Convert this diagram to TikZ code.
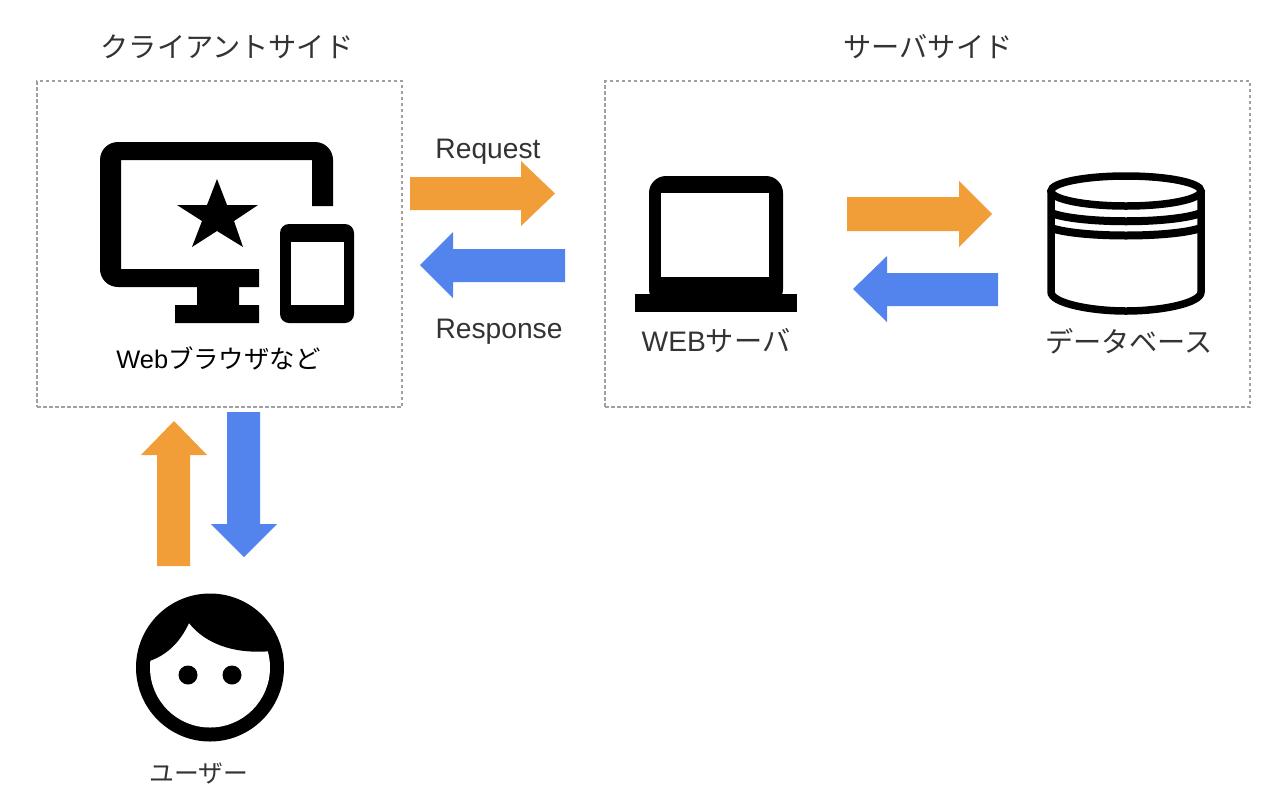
\documentclass[tikz,border=0pt]{standalone}
\usepackage{fontspec}
\setmainfont{Liberation Sans}
\newfontfamily\cjk{Noto Sans CJK JP}
\definecolor{orangearrow}{HTML}{F19E38}
\definecolor{bluearrow}{HTML}{5383EC}
\definecolor{labelgray}{HTML}{333333}
\definecolor{framegray}{HTML}{A0A0A0}
\tikzset{
  frame/.style={draw=framegray,line width=1.5pt,dash pattern=on 3.5pt off 2.5pt},
  toarrow/.style={fill=orangearrow},
  backarrow/.style={fill=bluearrow},
  biglabel/.style={inner sep=0pt,text=labelgray,font=\fontsize{28.2}{30}\selectfont},
  smalllabel/.style={inner sep=0pt,font=\fontsize{25.4}{28}\selectfont},
  ink/.style={fill=black},
  paper/.style={fill=white},
  dbline/.style={draw=black,line width=8pt}
}
\begin{document}
\begin{tikzpicture}[x=1pt,y=-1pt]
\useasboundingbox[fill=white] (0,0) rectangle (1282,804);
% frames
\node[frame,minimum width=365pt,minimum height=326pt,inner sep=0pt] (client) at (219.5,244) {};
\node[frame,minimum width=645pt,minimum height=326pt,inner sep=0pt] (server) at (927.5,244) {};
% labels
\node[biglabel] (clientlabel) at (227,47) {\cjk クライアントサイド};
\node[biglabel] (serverlabel) at (928,47) {\cjk サーバサイド};
\node[biglabel] (request) at (488,152) {Request};
\node[biglabel] (response) at (499,332) {Response};
\node[biglabel] (weblabel) at (716,341) {WEB{\cjk サーバ}};
\node[biglabel] (dblabel) at (1129,341) {\cjk データベース};
\node[smalllabel] (browser) at (218.5,358) {Web{\cjk ブラウザなど}};
\node[smalllabel,text=labelgray,font=\fontsize{24.8}{28}\selectfont] (user) at (199,773) {\cjk ユーザー};
% arrows
\fill[toarrow] (410,177) -- (521,177) -- (521,161) -- (555,193.5) -- (521,226) -- (521,210) -- (410,210) -- cycle;
\fill[backarrow] (565,249) -- (453,249) -- (453,232) -- (420,265) -- (453,298) -- (453,282) -- (565,282) -- cycle;
\fill[toarrow] (847,197) -- (959,197) -- (959,181) -- (992,214) -- (959,247) -- (959,231) -- (847,231) -- cycle;
\fill[backarrow] (998,273) -- (887,273) -- (887,256) -- (853,289) -- (887,322) -- (887,306) -- (998,306) -- cycle;
\fill[toarrow] (157,566) -- (157,455) -- (141,455) -- (174,421) -- (207,455) -- (190,455) -- (190,566) -- cycle;
\fill[backarrow] (227,412) -- (227,524) -- (211,524) -- (244,557) -- (277,524) -- (260,524) -- (260,412) -- cycle;
% monitor icon
\fill[ink] (118,142) -- (315,142) .. controls (325,142) and (333,150) .. (333,160) -- (333,206) -- (312,206) -- (312,160) -- (121,160) -- (121,269) -- (259,269) -- (259,287) -- (239,287) -- (239,305) -- (259,305) -- (259,323) -- (175,323) -- (175,305) -- (197,305) -- (197,287) -- (118,287) .. controls (108,287) and (100,279) .. (100,269) -- (100,160) .. controls (100,150) and (108,142) .. (118,142) -- cycle;
\fill[ink] (217,179) -- (227,205) -- (258,205) -- (234,221) -- (243,247) -- (217,231) -- (192,247) -- (202,221) -- (177,205) -- (207,205) -- cycle;
\fill[ink,rounded corners=9pt] (280,224) rectangle (354,323);
\fill[paper] (291,242) rectangle (344,305);
% laptop icon
\fill[ink,rounded corners=17pt] (649,176) rectangle (783,306);
\fill[paper] (661,193) rectangle (769,277);
\fill[ink] (635,294) rectangle (797,312);
% database icon
\draw[dbline,line width=7.5pt] (1051,192) -- (1051,292) .. controls (1051,303) and (1090,311) .. (1126,311) .. controls (1162,311) and (1201,303) .. (1201,292) -- (1201,192);
\draw[dbline] (1051,213) .. controls (1080,224) and (1172,224) .. (1201,213);
\draw[dbline] (1051,228) .. controls (1080,238) and (1172,238) .. (1201,228);
\draw[dbline,line width=7.5pt,fill=white] (1126,191) ellipse[x radius=75,y radius=15];
% user icon
\begin{scope}
\fill[ink] (210,667.5) circle[radius=74];
\fill[paper] (210,667.5) circle[radius=60];
\clip (210,667.5) circle[radius=61];
\fill[ink] (146,662) .. controls (165,657) and (180,643) .. (189,623) .. controls (203,641) and (230,655) .. (272,651) -- (280,590) -- (140,590) -- cycle;
\end{scope}
\fill[ink] (188,675) circle[radius=9.5];
\fill[ink] (232,675) circle[radius=9.5];
\end{tikzpicture}
\end{document}
